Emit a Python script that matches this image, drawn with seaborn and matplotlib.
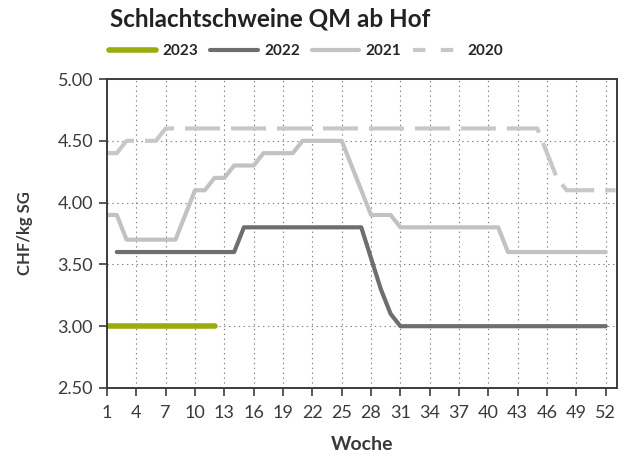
import matplotlib
matplotlib.use('Agg')
import matplotlib.pyplot as plt
from matplotlib.lines import Line2D
import numpy as np
import seaborn as sns

# weekly prices CHF/kg SG
weeks_2023 = list(range(1, 13))
price_2023 = [3.00] * 12

weeks_2022 = list(range(2, 53))
price_2022 = ([3.60] * 13 + [3.80] * 13 + [3.55, 3.30, 3.10] + [3.00] * 22)

weeks_2021 = list(range(1, 53))
price_2021 = ([3.90, 3.90] + [3.70] * 6 + [3.90, 4.10, 4.10, 4.20, 4.20]
              + [4.30] * 3 + [4.40] * 4 + [4.50] * 5 + [4.30, 4.10]
              + [3.90] * 3 + [3.80] * 11 + [3.60] * 11)

weeks_2020 = list(range(1, 54))
price_2020 = ([4.40, 4.40] + [4.50] * 4 + [4.60] * 39 + [4.40, 4.20]
              + [4.10] * 6)

years = ['2023', '2022', '2021', '2020']
week_ticks = list(range(1, 53, 3))
y_ticks = [2.50, 3.00, 3.50, 4.00, 4.50, 5.00]

sns.set_style("ticks")
plt.rcParams['font.family'] = ['Lato', 'DejaVu Sans']
plt.rcParams['lines.scale_dashes'] = False

text_col = '#3a3a3a'
styles = {
    '2023': dict(color='#9cac0c', linewidth=4.0, linestyle='-'),
    '2022': dict(color='#6e6e6e', linewidth=3.0, linestyle='-'),
    '2021': dict(color='#c2c2c2', linewidth=3.0, linestyle='-'),
    '2020': dict(color='#c8c8c8', linewidth=3.0, linestyle=(1.4, (25.2, 7.9))),
}
series = {
    '2023': (weeks_2023, price_2023),
    '2022': (weeks_2022, price_2022),
    '2021': (weeks_2021, price_2021),
    '2020': (weeks_2020, price_2020),
}

fig = plt.figure(figsize=(6.3, 4.59), dpi=100)
ax = fig.add_axes([107 / 630, 1 - 388 / 459, (617 - 107) / 630, (388 - 79) / 459])

# draw older years first so 2023 sits on top
for yr in ['2020', '2021', '2022', '2023']:
    x, y = series[yr]
    sns.lineplot(x=x, y=y, ax=ax, solid_joinstyle='round',
                 dash_capstyle='butt', **styles[yr])

ax.set_xlim(1, 53.15)
ax.set_ylim(2.5, 5.0)
ax.set_xticks(week_ticks)
ax.set_yticks(y_ticks)
ax.set_yticklabels([f'{v:.2f}' for v in y_ticks])
ax.grid(True, color='#808080', linestyle=(0, (1, 2.5)), linewidth=0.8)
ax.set_axisbelow(True)

for sp in ax.spines.values():
    sp.set_color('#3c3c3c')
    sp.set_linewidth(1.4)
ax.tick_params(axis='both', direction='out', length=6, width=1.2,
               color='#3c3c3c', labelsize=13, labelcolor=text_col, pad=4)
ax.tick_params(axis='x', pad=6)

ax.set_xlabel('Woche', fontsize=14, fontweight='bold', color=text_col)
ax.set_ylabel('CHF/kg SG', fontsize=12, fontweight='bold', color=text_col)
ax.xaxis.set_label_coords(0.5, -0.155)
ax.yaxis.set_label_coords(-0.145, 0.5)

fig.text(110 / 630, 1 - 19 / 459, 'Schlachtschweine QM ab Hof',
         fontsize=17.5, fontweight='bold', color='#222222', va='center')

handles = []
for yr in years:
    st = dict(styles[yr])
    if yr == '2020':
        st['linestyle'] = (0, (9, 11))
    handles.append(Line2D([], [], **st))
fig.legend(handles, years, loc='center left', ncol=4, frameon=False,
           bbox_to_anchor=(109 / 630, 1 - 51 / 459), borderaxespad=0,
           borderpad=0, handlelength=3.1, handletextpad=0.4,
           columnspacing=0.8, prop={'weight': 'bold', 'size': 11})

fig.savefig('out.png', dpi=100, facecolor='white')
plt.close(fig)
